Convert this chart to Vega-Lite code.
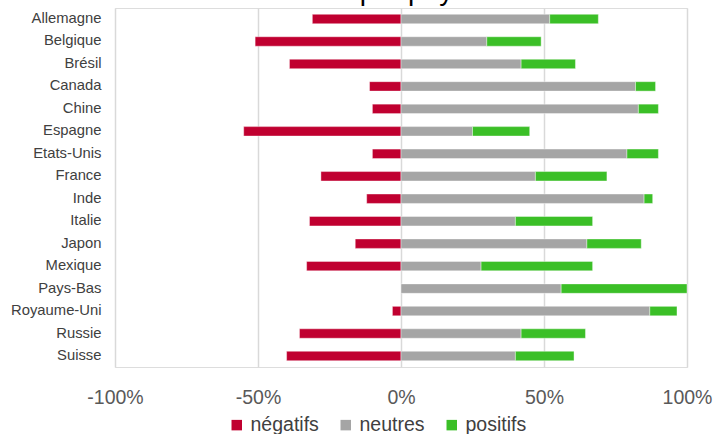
{
  "$schema": "https://vega.github.io/schema/vega-lite/v6.json",
  "autosize": {"type": "none"},
  "padding": {"left": 115, "top": 8, "right": 26, "bottom": 67},
  "width": 572,
  "height": 359,
  "background": "white",
  "title": {
    "text": "Sentiment par pays",
    "fontSize": 28,
    "font": "Liberation Sans",
    "fontWeight": "normal",
    "color": "#000000",
    "anchor": "start",
    "frame": "group",
    "dx": 111,
    "dy": 21.5,
    "baseline": "alphabetic",
    "offset": 2
  },
  "data": {
    "values": [
      {"pays": "Allemagne", "type": "négatifs", "valeur": -0.31},
      {"pays": "Allemagne", "type": "neutres", "valeur": 0.52},
      {"pays": "Allemagne", "type": "positifs", "valeur": 0.17},
      {"pays": "Belgique", "type": "négatifs", "valeur": -0.51},
      {"pays": "Belgique", "type": "neutres", "valeur": 0.30},
      {"pays": "Belgique", "type": "positifs", "valeur": 0.19},
      {"pays": "Brésil", "type": "négatifs", "valeur": -0.39},
      {"pays": "Brésil", "type": "neutres", "valeur": 0.42},
      {"pays": "Brésil", "type": "positifs", "valeur": 0.19},
      {"pays": "Canada", "type": "négatifs", "valeur": -0.11},
      {"pays": "Canada", "type": "neutres", "valeur": 0.82},
      {"pays": "Canada", "type": "positifs", "valeur": 0.07},
      {"pays": "Chine", "type": "négatifs", "valeur": -0.10},
      {"pays": "Chine", "type": "neutres", "valeur": 0.83},
      {"pays": "Chine", "type": "positifs", "valeur": 0.07},
      {"pays": "Espagne", "type": "négatifs", "valeur": -0.55},
      {"pays": "Espagne", "type": "neutres", "valeur": 0.25},
      {"pays": "Espagne", "type": "positifs", "valeur": 0.20},
      {"pays": "Etats-Unis", "type": "négatifs", "valeur": -0.10},
      {"pays": "Etats-Unis", "type": "neutres", "valeur": 0.79},
      {"pays": "Etats-Unis", "type": "positifs", "valeur": 0.11},
      {"pays": "France", "type": "négatifs", "valeur": -0.28},
      {"pays": "France", "type": "neutres", "valeur": 0.47},
      {"pays": "France", "type": "positifs", "valeur": 0.25},
      {"pays": "Inde", "type": "négatifs", "valeur": -0.12},
      {"pays": "Inde", "type": "neutres", "valeur": 0.85},
      {"pays": "Inde", "type": "positifs", "valeur": 0.03},
      {"pays": "Italie", "type": "négatifs", "valeur": -0.32},
      {"pays": "Italie", "type": "neutres", "valeur": 0.40},
      {"pays": "Italie", "type": "positifs", "valeur": 0.27},
      {"pays": "Japon", "type": "négatifs", "valeur": -0.16},
      {"pays": "Japon", "type": "neutres", "valeur": 0.65},
      {"pays": "Japon", "type": "positifs", "valeur": 0.19},
      {"pays": "Mexique", "type": "négatifs", "valeur": -0.33},
      {"pays": "Mexique", "type": "neutres", "valeur": 0.28},
      {"pays": "Mexique", "type": "positifs", "valeur": 0.39},
      {"pays": "Pays-Bas", "type": "négatifs", "valeur": 0},
      {"pays": "Pays-Bas", "type": "neutres", "valeur": 0.56},
      {"pays": "Pays-Bas", "type": "positifs", "valeur": 0.44},
      {"pays": "Royaume-Uni", "type": "négatifs", "valeur": -0.03},
      {"pays": "Royaume-Uni", "type": "neutres", "valeur": 0.87},
      {"pays": "Royaume-Uni", "type": "positifs", "valeur": 0.095},
      {"pays": "Russie", "type": "négatifs", "valeur": -0.355},
      {"pays": "Russie", "type": "neutres", "valeur": 0.42},
      {"pays": "Russie", "type": "positifs", "valeur": 0.225},
      {"pays": "Suisse", "type": "négatifs", "valeur": -0.40},
      {"pays": "Suisse", "type": "neutres", "valeur": 0.40},
      {"pays": "Suisse", "type": "positifs", "valeur": 0.205}
    ]
  },
  "mark": {"type": "bar", "stroke": "white", "strokeWidth": 0.8, "strokeOpacity": 0.5},
  "encoding": {
    "y": {
      "field": "pays",
      "type": "nominal",
      "sort": null,
      "scale": {"paddingInner": 0.58, "paddingOuter": 0.28},
      "axis": {
        "title": null,
        "domain": false,
        "ticks": false,
        "grid": false,
        "labelFont": "Liberation Sans",
        "labelFontSize": 14.8,
        "labelColor": "#404040",
        "labelPadding": 14
      }
    },
    "x": {
      "field": "valeur",
      "type": "quantitative",
      "stack": "zero",
      "scale": {"domain": [-1, 1], "nice": false},
      "axis": {
        "title": null,
        "values": [-1, -0.5, 0, 0.5, 1],
        "labelExpr": "(datum.value < 0 ? '-' : '') + abs(round(datum.value * 100)) + '%'",
        "labelFlush": false,
        "labelOverlap": false,
        "labelBound": false,
        "domain": false,
        "ticks": false,
        "grid": true,
        "gridColor": "#D9D9D9",
        "gridWidth": 1.5,
        "labelFont": "Liberation Sans",
        "labelFontSize": 19.5,
        "labelColor": "#595959",
        "labelPadding": 21
      }
    },
    "color": {
      "field": "type",
      "type": "nominal",
      "scale": {
        "domain": ["négatifs", "neutres", "positifs"],
        "range": ["#C00030", "#A5A5A5", "#3BBF27"]
      },
      "legend": {
        "title": null,
        "orient": "none",
        "legendX": 112,
        "legendY": 407,
        "direction": "horizontal",
        "symbolType": "square",
        "symbolSize": 110,
        "symbolStrokeWidth": 0,
        "labelFont": "Liberation Sans",
        "labelFontSize": 19.5,
        "labelColor": "#404040",
        "labelOffset": 4,
        "columnPadding": 17
      }
    }
  }
}
